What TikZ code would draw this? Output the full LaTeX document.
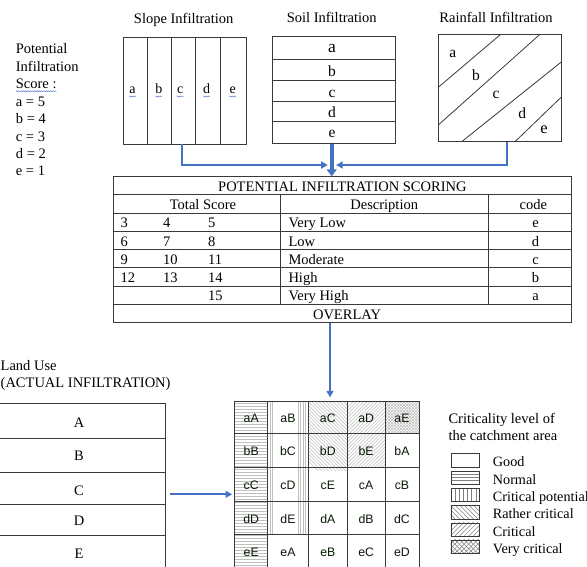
\documentclass[tikz,border=0pt]{standalone}
\usepackage{fontspec}
\setmainfont{Liberation Serif}
\newfontfamily\arialf{Liberation Sans}
\usetikzlibrary{arrows.meta,decorations.pathmorphing}
\definecolor{arrowblue}{HTML}{4472C4}
\definecolor{boxline}{HTML}{3A3A3A}
\definecolor{gridtext}{rgb}{0.03,0.1,0.02}
\definecolor{spellblue}{HTML}{5B7FD0}

\newcommand\hatchNW[6]{\begin{scope}\clip (#1,#2) rectangle (#3,#4);
 \foreach \k in {0,...,34}{\draw[#5] ({#1-60+\k*#6},#2) -- ++(70,70);}\end{scope}}
\newcommand\hatchNE[6]{\begin{scope}\clip (#1,#2) rectangle (#3,#4);
 \foreach \k in {0,...,34}{\draw[#5] ({#1-60+\k*#6},#4) -- ++(70,-70);}\end{scope}}

\tikzset{
 txt/.style={font=\fontsize{14.5}{17.4}\selectfont, inner sep=0pt, text height=11.5pt, text depth=0.3pt},
 ltxt/.style={txt, anchor=west},
 boxf/.style={draw=boxline, line width=0.8pt, inner sep=0pt},
 rule/.style={draw=boxline, line width=0.8pt},
 conn/.style={draw=arrowblue, line width=1.8pt},
 tipA/.style={-{Triangle[length=6.5pt,width=7pt]}},
 gtxt/.style={font=\arialf\fontsize{12.3}{14}\selectfont, text=gridtext, inner sep=0pt},
 ghatch/.style={draw=gray!50, line width=0.45pt},
 lhatch/.style={draw=gray, line width=0.5pt},
 spell/.style={draw=spellblue, line width=0.5pt, decorate, decoration={snake, amplitude=0.55pt, segment length=2.3pt}},
 gline/.style={draw=boxline, line width=0.7pt},
}

\begin{document}
\begin{tikzpicture}[x=1pt,y=-1pt]
\useasboundingbox (0,0) rectangle (587,567);

% ---------- titles ----------
\node[txt] (tslope) at (183.7,18) {Slope Infiltration};
\node[txt] (tsoil) at (331.7,17) {Soil Infiltration};
\node[txt] (train) at (496,17) {Rainfall Infiltration};

% ---------- left list ----------
\node[ltxt] (p1) at (15.7,48.3) {Potential};
\node[ltxt] (p2) at (15.7,65.7) {Infiltration};
\node[ltxt] (p3) at (15.7,83.3) {Score :};
\node[ltxt] (p4) at (15.7,100.7) {a = 5};
\node[ltxt] (p5) at (15.7,118.1) {b = 4};
\node[ltxt] (p6) at (15.7,135.5) {c = 3};
\node[ltxt] (p7) at (15.7,152.9) {d = 2};
\node[ltxt] (p8) at (15.7,170.3) {e = 1};
\draw[spell] (15.7,91.2) -- (56.7,91.2);

% ---------- slope box ----------
\node[boxf, minimum width=123pt, minimum height=106.3pt] (slope) at (184.8,90.85) {};
\foreach \xx in {147.3,171.7,195.7,220.3} \draw[rule] (\xx,37.7) -- (\xx,144);
\foreach \lt/\xx in {a/132.5,b/158.8,c/180.3,d/206.7,e/232.7}{
  \node[txt, font=\fontsize{14}{16}\selectfont] (s\lt) at (\xx,88.3) {\lt};
  \draw[spell] (\xx-3.4,96.5) -- (\xx+3.4,96.5);
}

% ---------- soil box ----------
\node[boxf, minimum width=123pt, minimum height=106.6pt] (soil) at (334.2,90) {};
\foreach \yy in {59.3,80.3,101,121.7} \draw[rule] (272.7,\yy) -- (395.7,\yy);
\node[txt, font=\fontsize{17.5}{20}\selectfont] (ka) at (332,47.3) {a};
\node[txt, font=\fontsize{15.5}{18}\selectfont] (kb) at (332,70.5) {b};
\node[txt, font=\fontsize{15.5}{18}\selectfont] (kc) at (332,91.5) {c};
\node[txt, font=\fontsize{15.5}{18}\selectfont] (kd) at (332,112) {d};
\node[txt, font=\fontsize{15.5}{18}\selectfont] (ke) at (332,132) {e};

% ---------- rainfall box ----------
\node[boxf, minimum width=123.4pt, minimum height=107.4pt] (rain) at (500,88) {};
\draw[rule] (438.3,87.3) -- (500.7,34.3);
\draw[rule] (438.3,125) -- (540,34.3);
\draw[rule] (461.7,141.7) -- (561.7,61.7);
\draw[rule] (515,141.7) -- (561.7,96.7);
\node[txt, font=\fontsize{15.5}{18}\selectfont] (ra) at (452.7,51.7) {a};
\node[txt, font=\fontsize{15.5}{18}\selectfont] (rb) at (476,75) {b};
\node[txt, font=\fontsize{15.5}{18}\selectfont] (rc) at (496,93.3) {c};
\node[txt, font=\fontsize{15.5}{18}\selectfont] (rd) at (522.3,113.3) {d};
\node[txt, font=\fontsize{16.5}{18}\selectfont] (re) at (544,128.3) {e};

% ---------- scoring table ----------
\node[boxf, minimum width=458.2pt, minimum height=145.6pt] (tbl) at (342.4,249.5) {};
\foreach \yy in {194.9,213.1,231.3,249.5,267.7,285.9,304.1} \draw[rule] (113.3,\yy) -- (571.5,\yy);
\draw[rule] (280,194.9) -- (280,304.1);
\draw[rule] (488.3,194.9) -- (488.3,304.1);
\node[txt] (ttitle) at (342.4,186) {POTENTIAL INFILTRATION SCORING};
\node[txt] (hts) at (203,204.2) {Total Score};
\node[txt] (hds) at (384.2,204.2) {Description};
\node[txt] (hcd) at (533.3,204.2) {code};
\foreach \n/\a/\b/\c/\d/\e/\yy in {1/3/4/5/Very Low/e/222.4, 2/6/7/8/Low/d/240.6, 3/9/10/11/Moderate/c/258.8, 4/12/13/14/High/b/277, 5///15/Very High/a/295.2}{
  \node[ltxt] (n\n a) at (120.5,\yy) {\a};
  \node[ltxt] (n\n b) at (163,\yy) {\b};
  \node[ltxt] (n\n c) at (208,\yy) {\c};
  \node[ltxt] (d\n) at (288.3,\yy) {\d};
  \node[txt] (c\n) at (535.5,\yy) {\e};
}
\node[txt] (ovl) at (347,313.4) {OVERLAY};

% ---------- land use ----------
\node[ltxt] (lu1) at (0.5,365) {Land Use};
\node[ltxt] (lu2) at (0.5,382.3) {(ACTUAL INFILTRATION)};
\node[boxf, minimum width=175pt, minimum height=172pt] (land) at (78.2,489.3) {};
\foreach \yy in {438.3,472.3,504,535.3} \draw[rule] (-10,\yy) -- (165.7,\yy);
\node[txt] (lA) at (79,421.5) {A};
\node[txt] (lB) at (79,455) {B};
\node[txt] (lC) at (79,489.5) {C};
\node[txt] (lD) at (79,520) {D};
\node[txt] (lE) at (79,552.5) {E};

% ---------- overlay grid ----------
\node[inner sep=0pt, minimum width=184.3pt, minimum height=167pt] (grid) at (326.85,484.5) {};
% Normal: column 1 horizontal lines
\foreach \yy in {403.2,406.2,...,567} \draw[ghatch] (234.7,\yy) -- (267.7,\yy);
% Critical potential: column 2 rows a-d
\foreach \xx in {270,272.3,298.3,300.7,303,305.3} \draw[ghatch] (\xx,401) -- (\xx,534.5);
% Rather critical
\hatchNW{308.3}{401}{347.3}{501}{ghatch}{3.5}
% Critical
\hatchNE{347.3}{401}{385}{467.5}{ghatch}{3.5}
% Very critical
\hatchNW{385}{401}{419}{433}{ghatch}{3}
\hatchNE{385}{401}{419}{433}{ghatch}{3}
% grid lines
\draw[gline] (234.7,401) rectangle (419,568);
\foreach \xx in {267.7,308.3,347.3,385} \draw[gline] (\xx,401) -- (\xx,568);
\foreach \yy in {433,467.5,501,534.5} \draw[gline] (234.7,\yy) -- (419,\yy);
% cell texts
\foreach \r/\yy/\l in {1/418/{aA,aB,aC,aD,aE}, 2/451.3/{bB,bC,bD,bE,bA}, 3/485.3/{cC,cD,cE,cA,cB}, 4/518.8/{dD,dE,dA,dB,dC}, 5/552.3/{eE,eA,eB,eC,eD}}{
  \foreach \t [count=\c] in \l {
    \pgfmathsetmacro\cx{{251.2,288,327.8,366.15,402}[\c-1]}
    \node[gtxt] (g\t) at (\cx,\yy) {\t};
  }
}

% ---------- legend ----------
\node[ltxt] (lt1) at (448.3,417.7) {Criticality level of};
\node[ltxt] (lt2) at (448.3,435) {the catchment area};
% hatch fills
\foreach \yy in {473.9,477.2,480.5} \draw[lhatch] (450.7,\yy) -- (479.3,\yy);
\foreach \xx in {454.9,459.1,463.3,467.5,471.7,475.9} \draw[lhatch] (\xx,487.9) -- (\xx,501.2);
\hatchNW{450.7}{505.2}{479.3}{518.5}{lhatch}{4.6}
\hatchNE{450.7}{522.5}{479.3}{535.8}{lhatch}{4.6}
\hatchNW{450.7}{539.8}{479.3}{553.1}{lhatch}{4.6}
\hatchNE{450.7}{539.8}{479.3}{553.1}{lhatch}{4.6}
\foreach \k/\lab in {0/Good,1/Normal,2/Critical potential,3/Rather critical,4/Critical,5/Very critical}{
  \node[boxf, minimum width=28.6pt, minimum height=13.3pt, anchor=north west] (lg\k) at (450.7,453.3+17.3*\k) {};
  \node[ltxt, font=\fontsize{14.2}{17}\selectfont] (ll\k) at (492.7,461.2+17.3*\k) {\lab};
}

% ---------- connectors ----------
\coordinate (jn) at (331.7,165);
\draw[conn,tipA] ([xshift=-3pt]slope.south) |- ([xshift=-4pt]jn);
\draw[conn,tipA] ([xshift=6.7pt]rain.south) |- ([xshift=4.5pt]jn);
\draw[draw=arrowblue, line width=3.6pt, -{Triangle[length=7pt,width=10pt]}] ([xshift=-2.5pt]soil.south) -- ([xshift=-2.5pt]soil.south |- tbl.north);
\coordinate (ovs) at ([xshift=-12.4pt]tbl.south);
\draw[conn,tipA,shorten >=3.5pt] (ovs) -- (ovs |- grid.north);
\coordinate (lus) at ([xshift=3.6pt,yshift=-5pt]land.east);
\draw[conn,tipA,shorten >=2.5pt] (lus) -- (lus -| grid.west);

\end{tikzpicture}
\end{document}
